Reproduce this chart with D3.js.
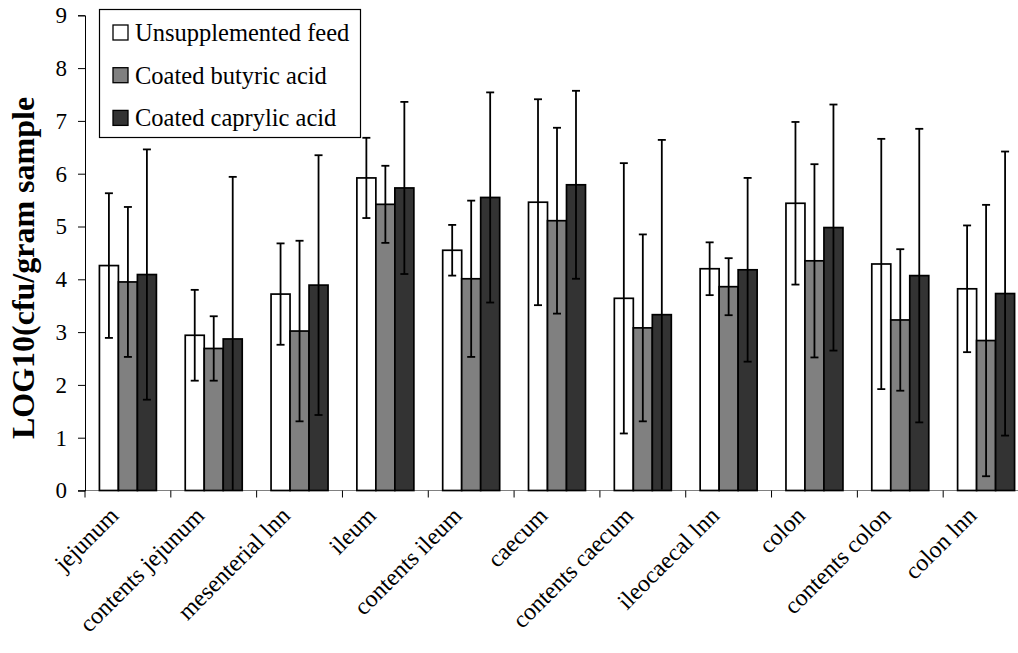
<!DOCTYPE html>
<html>
<head>
<meta charset="utf-8">
<script src="https://cdn.jsdelivr.net/npm/d3@7"></script>
<style>
  body { margin: 0; background: #fff; }
  text { font-family: "Liberation Serif", "Times New Roman", serif; fill: #000; }
</style>
</head>
<body>
<script>
// categories and series
var sites = ["jejunum", "contents jejunum", "mesenterial lnn", "ileum", "contents ileum",
             "caecum", "contents caecum", "ileocaecal lnn", "colon", "contents colon", "colon lnn"];
var seriesNames = ["Unsupplemented feed", "Coated butyric acid", "Coated caprylic acid"];
var seriesColors = ["#ffffff", "#808080", "#333333"];

// means (log10 cfu/g)
var unsupplemented = [4.26, 2.94, 3.72, 5.92, 4.55, 5.46, 3.64, 4.20, 5.44, 4.29, 3.82];
var butyric        = [3.95, 2.69, 3.02, 5.42, 4.01, 5.11, 3.08, 3.86, 4.35, 3.23, 2.84];
var caprylic       = [4.09, 2.87, 3.89, 5.73, 5.55, 5.79, 3.33, 4.18, 4.98, 4.07, 3.73];
// standard deviations
var unsupplementedSd = [1.37, 0.86, 0.96, 0.76, 0.48, 1.95, 2.56, 0.50, 1.54, 2.37, 1.20];
var butyricSd        = [1.42, 0.61, 1.71, 0.73, 1.48, 1.76, 1.77, 0.54, 1.83, 1.34, 2.57];
var caprylicSd       = [2.37, 3.07, 2.46, 1.63, 1.99, 1.78, 3.31, 1.74, 2.33, 2.78, 2.69];

var yTicks = [0, 1, 2, 3, 4, 5, 6, 7, 8, 9];

var width = 1018, height = 653;
var margin = {left: 85, right: 1029, top: 15.3, bottom: 490.5};

var svg = d3.select("body").append("svg")
    .attr("width", width)
    .attr("height", height);

var means = [unsupplemented, butyric, caprylic];
var sds = [unsupplementedSd, butyricSd, caprylicSd];
var data = sites.map(function(s, i) {
  return { site: s, vals: seriesNames.map(function(n, j) {
    return { name: n, j: j, mean: means[j][i], sd: sds[j][i] };
  }) };
});

// scales
var x0 = d3.scaleBand().domain(sites).range([margin.left, margin.right]).padding(0);
var pad = x0.bandwidth() * 0.168;
var x1 = d3.scaleBand().domain(seriesNames).range([pad, x0.bandwidth() - pad]).padding(0);
var y = d3.scaleLinear().domain([0, 9]).range([margin.bottom, margin.top]);
var base = y(0);

// x axis line + boundary ticks
svg.append("line")
    .attr("x1", margin.left - 7).attr("x2", margin.right)
    .attr("y1", base).attr("y2", base)
    .attr("stroke", "#808080").attr("stroke-width", 1);

var bounds = sites.map(function(s) { return x0(s); }).concat([margin.right]);
svg.selectAll(".xtick")
  .data(bounds)
  .enter().append("line")
    .attr("class", "xtick")
    .attr("x1", function(d) { return d; }).attr("x2", function(d) { return d; })
    .attr("y1", base).attr("y2", base + 7)
    .attr("stroke", "#000").attr("stroke-width", 1);

// y axis
var yAxis = svg.append("g")
    .attr("transform", "translate(" + margin.left + ",0)")
    .call(d3.axisLeft(y).tickValues(yTicks).tickSize(7).tickPadding(11).tickFormat(d3.format("d")));
yAxis.select(".domain").attr("stroke", "#000").attr("stroke-width", 1);
yAxis.selectAll(".tick line").attr("stroke", "#000");
yAxis.selectAll(".tick text")
    .attr("font-size", "23px")
    .attr("font-family", "Liberation Serif, Times New Roman, serif")
    .attr("fill", "#000");

// bars
var groups = svg.selectAll(".grp")
  .data(data)
  .enter().append("g")
    .attr("class", "grp")
    .attr("transform", function(d) { return "translate(" + x0(d.site) + ",0)"; });

groups.selectAll("rect")
  .data(function(d) { return d.vals; })
  .enter().append("rect")
    .attr("x", function(d) { return x1(d.name); })
    .attr("width", x1.bandwidth())
    .attr("y", function(d) { return y(d.mean); })
    .attr("height", function(d) { return base - y(d.mean); })
    .attr("fill", function(d) { return seriesColors[d.j]; })
    .attr("stroke", "#000")
    .attr("stroke-width", 1.7);

// error bars
var cap = 4;
var eb = groups.selectAll(".err")
  .data(function(d) { return d.vals; })
  .enter().append("g")
    .attr("class", "err")
    .attr("transform", function(d) { return "translate(" + (x1(d.name) + x1.bandwidth() / 2) + ",0)"; });

eb.append("line")
    .attr("y1", function(d) { return y(d.mean + d.sd); })
    .attr("y2", function(d) { return y(Math.max(0, d.mean - d.sd)); })
    .attr("stroke", "#000").attr("stroke-width", 1.8);
eb.append("line")
    .attr("x1", -cap).attr("x2", cap)
    .attr("y1", function(d) { return y(d.mean + d.sd); })
    .attr("y2", function(d) { return y(d.mean + d.sd); })
    .attr("stroke", "#000").attr("stroke-width", 1.8);
eb.filter(function(d) { return d.mean - d.sd > 0.05; })
  .append("line")
    .attr("x1", -cap).attr("x2", cap)
    .attr("y1", function(d) { return y(d.mean - d.sd); })
    .attr("y2", function(d) { return y(d.mean - d.sd); })
    .attr("stroke", "#000").attr("stroke-width", 1.8);

// x labels, rotated
svg.selectAll(".xlab")
  .data(sites)
  .enter().append("text")
    .attr("class", "xlab")
    .attr("transform", function(d) {
      return "translate(" + (x0(d) + x0.bandwidth() / 2 - 8) + "," + 517 + ") rotate(-45)";
    })
    .attr("text-anchor", "end")
    .attr("font-size", "24px")
    .text(function(d) { return d; });

// y label
svg.append("text")
    .attr("transform", "translate(34,268) rotate(-90)")
    .attr("text-anchor", "middle")
    .attr("font-size", "32px")
    .attr("font-weight", "bold")
    .text("LOG10(cfu/gram sample");

// legend
var legend = svg.append("g");
legend.append("rect")
    .attr("x", 99.5).attr("y", 9.5)
    .attr("width", 261).attr("height", 128)
    .attr("fill", "#fff").attr("stroke", "#000").attr("stroke-width", 1.2);

var items = legend.selectAll(".item")
  .data(seriesNames)
  .enter().append("g")
    .attr("class", "item")
    .attr("transform", function(d, i) { return "translate(113," + (25 + i * 42.7) + ")"; });
items.append("rect")
    .attr("width", 15).attr("height", 15)
    .attr("fill", function(d, i) { return seriesColors[i]; })
    .attr("stroke", "#000").attr("stroke-width", 1.3);
items.append("text")
    .attr("x", 22).attr("y", 16)
    .attr("font-size", "24.5px")
    .text(function(d) { return d; });
</script>
</body>
</html>
